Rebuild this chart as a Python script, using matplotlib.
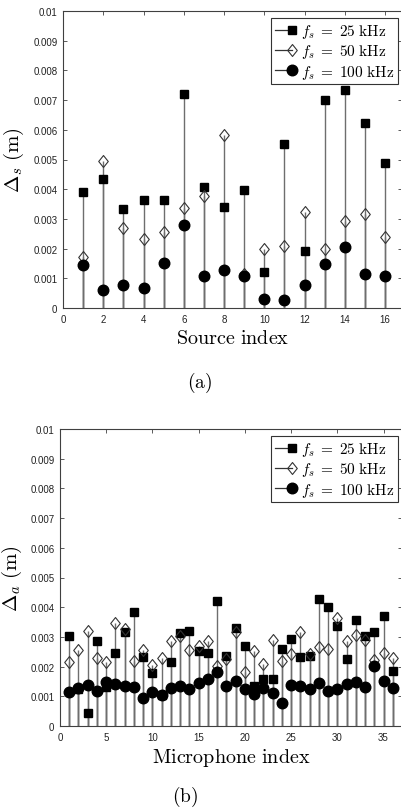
import matplotlib
matplotlib.use("Agg")
import matplotlib.pyplot as plt
from matplotlib.lines import Line2D
from matplotlib.legend_handler import HandlerBase
from matplotlib.path import Path
import numpy as np

plt.rcParams['mathtext.fontset'] = 'cm'
plt.rcParams['font.family'] = ['Liberation Sans', 'DejaVu Sans']

# ---------------- data ----------------
source_idx = list(range(1, 17))
src_25k = [3.90, 4.34, 3.33, 3.64, 3.64, 7.21, 4.08, 3.39, 3.97, 1.21, 5.52, 1.93, 7.01, 7.34, 6.22, 4.88]
src_50k = [1.71, 4.95, 2.69, 2.32, 2.55, 3.38, 3.78, 5.84, 1.15, 1.98, 2.08, 3.24, 1.98, 2.92, 3.16, 2.38]
src_100k = [1.45, 0.62, 0.77, 0.68, 1.50, 2.78, 1.08, 1.28, 1.08, 0.29, 0.28, 0.77, 1.48, 2.06, 1.14, 1.07]

mic_idx = list(range(1, 37))
mic_25k = [3.04, 1.25, 0.44, 2.85, 1.32, 2.45, 3.18, 3.83, 2.31, 1.78, 1.05, 2.14,
           3.12, 3.19, 2.52, 2.45, 4.20, 2.37, 3.30, 2.68, 1.36, 1.58, 1.58, 2.59,
           2.94, 2.31, 2.35, 4.27, 4.02, 3.38, 2.26, 3.58, 3.04, 3.18, 3.69, 1.86]
mic_50k = [2.17, 2.56, 3.20, 2.30, 2.17, 3.47, 3.27, 2.18, 2.56, 2.05, 2.28, 2.85,
           3.04, 2.56, 2.70, 2.85, 2.03, 2.26, 3.15, 1.83, 2.54, 2.10, 2.90, 2.19,
           2.42, 3.15, 2.42, 2.67, 2.59, 3.64, 2.85, 3.06, 2.91, 2.22, 2.45, 2.30]
mic_100k = [1.16, 1.27, 1.38, 1.18, 1.47, 1.40, 1.34, 1.30, 0.95, 1.13, 1.04, 1.29,
            1.34, 1.26, 1.45, 1.58, 1.81, 1.36, 1.50, 1.25, 1.08, 1.29, 1.11, 0.77,
            1.39, 1.36, 1.25, 1.45, 1.19, 1.25, 1.41, 1.47, 1.30, 2.03, 1.50, 1.27]

labels = [r'$f_s\;=\;25\ \mathrm{kHz}$', r'$f_s\;=\;50\ \mathrm{kHz}$', r'$f_s\;=\;100\ \mathrm{kHz}$']
yticks = [i / 1000 for i in range(0, 11)]

STEM_C = '#6e6e6e'
AX_C = '#404040'

diamond = Path([(0, 1), (0.8, 0), (0, -1), (-0.8, 0), (0, 1)],
               [Path.MOVETO, Path.LINETO, Path.LINETO, Path.LINETO, Path.CLOSEPOLY])

styles = [dict(marker='s', ms=6.2, mfc='black', mec='black'),
          dict(marker=diamond, ms=8.6, mfc='none', mec='#333333', mew=0.8),
          dict(marker='o', ms=7.6, mfc='black', mec='black')]


class StemHandler(HandlerBase):
    def create_artists(self, legend, orig, xdescent, ydescent, width, height,
                       fontsize, trans):
        y = height / 2 - ydescent
        x0 = -xdescent
        ln = Line2D([x0, x0 + width * 0.8], [y, y], color='#333333', lw=0.9)
        mk = Line2D([x0 + width * 0.8], [y], marker=orig.get_marker(),
                    ms=orig.get_markersize(), mfc=orig.get_markerfacecolor(),
                    mec=orig.get_markeredgecolor(), mew=orig.get_markeredgewidth(),
                    linestyle='none')
        ln.set_transform(trans)
        mk.set_transform(trans)
        return [ln, mk]


def draw(ax, x, series, xlim, xticks, ylabel, xlabel, ylab_x, leg_anchor):
    handles = []
    for vals in series:
        v = np.array(vals) / 1000.0
        ax.vlines(x, 0, v, colors=STEM_C, lw=1.0, zorder=2)
    for vals, st in zip(series, styles):
        v = np.array(vals) / 1000.0
        h, = ax.plot(x, v, linestyle='none', zorder=3, **st)
        handles.append(h)
    ax.set_xlim(*xlim)
    ax.set_ylim(0, 0.01)
    ax.set_xticks(xticks)
    ax.set_yticks(yticks)
    ax.set_yticklabels(['{:g}'.format(t) for t in yticks])
    ax.tick_params(direction='in', top=True, right=True, length=3, width=0.6,
                   colors=AX_C, labelsize=7, labelcolor='#222222', pad=4)
    for s in ax.spines.values():
        s.set_color(AX_C)
        s.set_linewidth(0.8)
    ax.set_ylabel(ylabel, fontsize=15)
    ax.yaxis.set_label_coords(ylab_x, 0.5)
    ax.set_xlabel(xlabel, fontsize=14.5, labelpad=3)
    leg = ax.legend(handles, labels, loc='upper right', bbox_to_anchor=leg_anchor,
                    handler_map={Line2D: StemHandler()}, fontsize=11,
                    frameon=True, fancybox=False, edgecolor='#333333',
                    handlelength=1.4, handletextpad=0.3, labelspacing=0.15,
                    borderpad=0.25, borderaxespad=0.0, framealpha=1)
    leg.get_frame().set_linewidth(0.8)


fig = plt.figure(figsize=(4.02, 8.12), dpi=100)
W, H = 402.0, 812.0

ax1 = fig.add_axes([63 / W, 1 - 309 / H, (402 - 63) / W, 297 / H])
draw(ax1, source_idx, [src_25k, src_50k, src_100k], (0, 16.84), list(range(0, 17, 2)),
     r'$\Delta_s\ (\mathrm{m})$', r'$\mathrm{Source\ index}$', -0.11, (0.988, 0.976))

ax2 = fig.add_axes([60 / W, 1 - 727 / H, (402 - 60) / W, 297 / H])
draw(ax2, mic_idx, [mic_25k, mic_50k, mic_100k], (0, 37.0), list(range(0, 36, 5)),
     r'$\Delta_a\ (\mathrm{m})$', r'$\mathrm{Microphone\ index}$', -0.105, (0.988, 0.976))

fig.text(200 / W, 1 - 383 / H, r'$(\mathrm{a})$', fontsize=14, ha='center', va='center')
fig.text(185 / W, 1 - 797 / H, r'$(\mathrm{b})$', fontsize=14, ha='center', va='center')

fig.savefig('out.png', dpi=100)
